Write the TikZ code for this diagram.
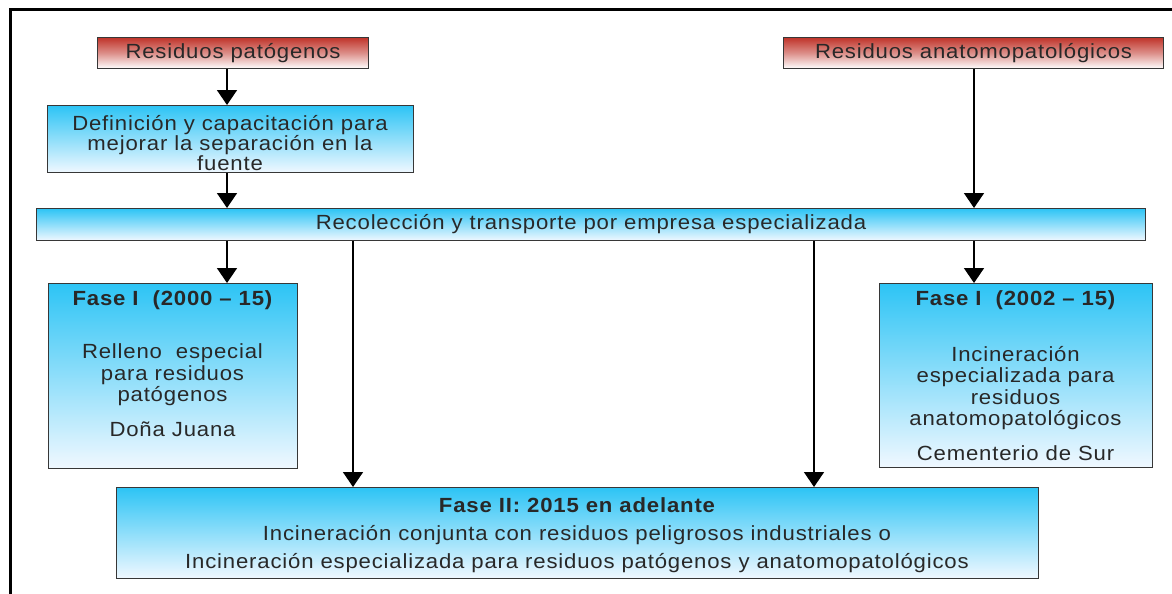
\documentclass[tikz,border=0pt]{standalone}
\usepackage{fontspec}
\setmainfont{Liberation Sans}[FakeStretch=1.08,LetterSpace=4]
\usetikzlibrary{arrows.meta}
\definecolor{redtop}{RGB}{192,52,42}
\definecolor{bluetop}{RGB}{45,196,245}
\definecolor{bluebot}{RGB}{240,248,255}
\definecolor{edge}{RGB}{55,55,55}
\definecolor{ink}{RGB}{40,40,40}
\tikzset{
  box/.style={draw=edge, line width=1.1pt, inner sep=0pt, anchor=north west},
  redbox/.style={box, top color=redtop, bottom color=white, middle color=redtop!55!white},
  bluebox/.style={box, top color=bluetop, bottom color=bluebot},
  txt/.style={text=ink, inner sep=0pt, align=center, font=\fontsize{20.5}{21.5}\selectfont},
  arr/.style={line width=1.6pt, -{Triangle[width=20pt,length=15pt]}},
}
\begin{document}
\begin{tikzpicture}[x=1pt,y=-1pt]
\useasboundingbox (0,0) rectangle (1172,594);
% frame
\draw[line width=3pt] (10,594) -- (10,10) -- (1172,10);
% boxes
\node[redbox, minimum width=271pt, minimum height=31pt] (rp) at (97,37) {};
\node[redbox, minimum width=380pt, minimum height=31pt] (ra) at (783,37) {};
\node[bluebox, minimum width=366pt, minimum height=67pt] (def) at (47,105) {};
\node[bluebox, minimum width=1109pt, minimum height=32pt] (bar) at (36,208) {};
\node[bluebox, minimum width=249pt, minimum height=185pt] (f1l) at (48,283) {};
\node[bluebox, minimum width=273pt, minimum height=184pt] (f1r) at (879,283) {};
\node[bluebox, minimum width=922pt, minimum height=91pt] (f2) at (116,487) {};
% texts
\node[txt] (trp) at (rp.center) {Residuos patógenos};
\node[txt] (tra) at (ra.center) {Residuos anatomopatológicos};
\node[txt, font=\fontsize{20.5}{19.7}\selectfont] (tdef) at (230,143) {Definición y capacitación para\\mejorar la separación en la\\fuente};
\node[txt] (tbar) at (bar.center) {Recolección y transporte por empresa especializada};
\node[txt, font=\fontsize{20.5}{21.5}\selectfont\bfseries] (f1lt) at (172.5,300) {Fase I~ (2000 – 15)};
\node[txt] (f1lb) at (172.5,375) {Relleno~ especial\\para residuos\\patógenos};
\node[txt] (f1lc) at (172.5,429) {Doña Juana};
\node[txt, font=\fontsize{20.5}{21.5}\selectfont\bfseries] (f1rt) at (1015.5,300) {Fase I~ (2002 – 15)};
\node[txt] (f1rb) at (1015.5,388) {Incineración\\especializada para\\residuos\\anatomopatológicos};
\node[txt] (f1rc) at (1015.5,453) {Cementerio de Sur};
\node[txt, font=\fontsize{20.5}{21.5}\selectfont\bfseries] (f2t) at (577,505) {Fase II: 2015 en adelante};
\node[txt, font=\fontsize{20.5}{28}\selectfont] (f2b) at (577,549) {Incineración conjunta con residuos peligrosos industriales o\\Incineración especializada para residuos patógenos y anatomopatológicos};
% connectors
\coordinate (cL) at (227,0);
\coordinate (cR) at (974,0);
\coordinate (cM1) at (353,0);
\coordinate (cM2) at (814,0);
\draw[arr] (cL |- rp.south) -- (cL |- def.north);
\draw[arr] (cL |- def.south) -- (cL |- bar.north);
\draw[arr] (cR |- ra.south) -- (cR |- bar.north);
\draw[arr] (cL |- bar.south) -- (cL |- f1l.north);
\draw[arr] (cR |- bar.south) -- (cR |- f1r.north);
\draw[arr] (cM1 |- bar.south) -- (cM1 |- f2.north);
\draw[arr] (cM2 |- bar.south) -- (cM2 |- f2.north);
\end{tikzpicture}
\end{document}
